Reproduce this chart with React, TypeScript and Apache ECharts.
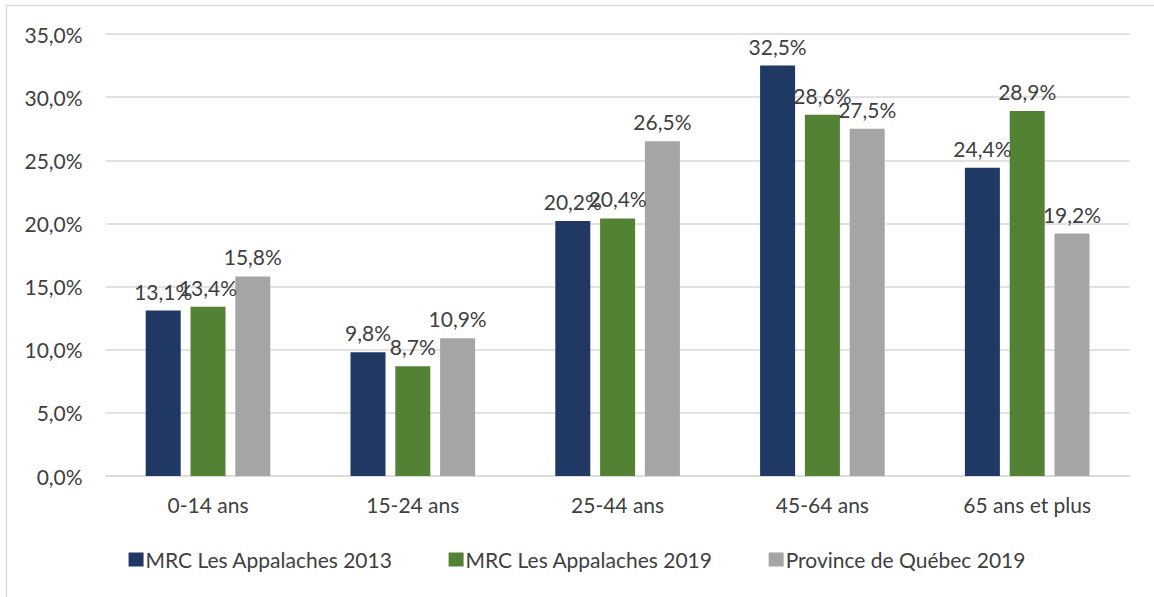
import React, { useEffect, useRef } from "react";
import * as echarts from "echarts";

const categories = ["0-14 ans", "15-24 ans", "25-44 ans", "45-64 ans", "65 ans et plus"];
const seriesNames = ["MRC Les Appalaches 2013", "MRC Les Appalaches 2019", "Province de Québec 2019"];
const appalaches2013 = [13.1, 9.8, 20.2, 32.5, 24.4];
const appalaches2019 = [13.4, 8.7, 20.4, 28.6, 28.9];
const quebec2019 = [15.8, 10.9, 26.5, 27.5, 19.2];
const colors = ["#203864", "#548235", "#A5A5A5"];

const FONT = "Lato, 'Liberation Sans', sans-serif";
const TXT = "#404040";
const FS = 21;
const fmt = (v: number) => v.toFixed(1).replace(".", ",") + "%";

export default function App() {
  const ref = useRef<HTMLDivElement>(null);
  useEffect(() => {
    if (!ref.current) return;
    const chart = echarts.init(ref.current, null, { renderer: "svg" });
    const values = [appalaches2013, appalaches2019, quebec2019];
    chart.setOption({
      animation: false,
      backgroundColor: "#ffffff",
      textStyle: { fontFamily: FONT },
      graphic: [
        {
          type: "rect",
          shape: { x: 6.5, y: 5.5, width: 1170, height: 620 },
          style: { fill: "none", stroke: "#d9d9d9", lineWidth: 1.5 },
          silent: true,
        },
      ],
      grid: { left: 105.6, right: 1154 - 1129.6, top: 34, bottom: 597 - 476 },
      legend: {
        data: seriesNames,
        left: "center",
        top: 544,
        itemWidth: 15,
        itemHeight: 14,
        itemGap: 56,
        icon: "rect",
        textStyle: { color: TXT, fontSize: FS, fontFamily: FONT, padding: [0, 0, 0, -3] },
      },
      xAxis: {
        type: "category",
        data: categories,
        axisTick: { show: false },
        axisLine: { lineStyle: { color: "#d9d9d9", width: 1.5 } },
        axisLabel: { color: TXT, fontSize: FS, fontFamily: FONT, margin: 18 },
      },
      yAxis: {
        type: "value",
        min: 0,
        max: 35,
        interval: 5,
        axisLine: { show: false },
        axisTick: { show: false },
        splitLine: { lineStyle: { color: "#d9d9d9", width: 1.5 } },
        axisLabel: { color: TXT, fontSize: FS, fontFamily: FONT, margin: 23, formatter: (v: number) => fmt(v) },
      },
      series: seriesNames.map((name, i) => ({
        name,
        type: "bar",
        data: values[i],
        barWidth: 35,
        barGap: "28%",
        itemStyle: { color: colors[i] },
        label: {
          show: true,
          position: "top",
          distance: 9,
          color: TXT,
          fontSize: FS,
          fontFamily: FONT,
          formatter: (p: any) => fmt(p.value),
        },
      })),
    });
    return () => chart.dispose();
  }, []);
  return (
    <div
      ref={ref}
      style={{ position: "fixed", left: 0, top: 0, width: 1154, height: 597 }}
    />
  );
}
